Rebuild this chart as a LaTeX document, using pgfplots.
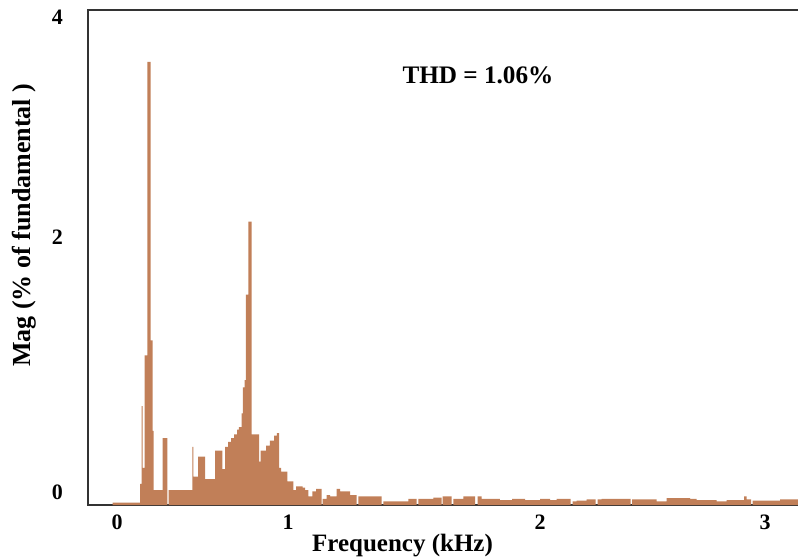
\documentclass[border=0pt]{standalone}
\usepackage{pgfplots}
\pgfplotsset{compat=1.18}
\usepackage{fontspec}
\setmainfont{Liberation Serif}
\definecolor{barc}{RGB}{193,127,88}
\begin{document}
\begin{tikzpicture}
\begin{axis}[
  at={(0,0)}, anchor=south west,
  scale only axis, width=357pt, height=247.5pt,
  xmin=-0.13426, xmax=3.1713, ymin=0, ymax=4,
  axis line style={black!80, line width=0.9pt},
  major tick length=0pt,
  xtick={0,0.7917,1.9583,3}, xticklabels={0,1,2,3},
  ytick={0.105,2.166,3.94}, yticklabels={0,2,4},
  /pgf/number format/assume math mode=true,
  ticklabel style={font=\bfseries\fontsize{11}{13}\selectfont},
  xticklabel style={yshift=-1.5pt},
  yticklabel style={xshift=-9pt},
  xlabel={Frequency (kHz)},
  ylabel={Mag (\% of fundamental )},
  label style={font=\bfseries\fontsize{12.5}{15}\selectfont},
  xlabel style={at={(axis description cs:0.4405,-0.081)}, anchor=center},
  ylabel style={at={(axis description cs:-0.0896,0.565)}, anchor=center, font=\bfseries\fontsize{13}{15}\selectfont},
  clip=true,
]
\addplot[const plot, fill=barc, draw=none] table[row sep=\\] {
x y\\
-0.0199 0.02\\
0.1065 0.17\\
0.1144 0.80\\
0.1190 0.30\\
0.1282 1.21\\
0.1403 3.58\\
0.1560 1.33\\
0.1653 0.60\\
0.1699 0.12\\
0.2116 0.54\\
0.2329 0\\
0.2394 0.12\\
0.3486 0.47\\
0.3532 0.23\\
0.3750 0.39\\
0.4074 0.21\\
0.4537 0.44\\
0.4875 0.29\\
0.5000 0.47\\
0.5139 0.51\\
0.5278 0.54\\
0.5417 0.57\\
0.5556 0.61\\
0.5648 0.63\\
0.5764 0.74\\
0.5833 0.95\\
0.5912 1.01\\
0.5972 1.70\\
0.6079 2.29\\
0.6236 0.57\\
0.6574 0.35\\
0.6653 0.44\\
0.6898 0.48\\
0.7083 0.52\\
0.7269 0.56\\
0.7407 0.58\\
0.7500 0.30\\
0.7593 0.27\\
0.7884 0.19\\
0.8162 0.12\\
0.8287 0.15\\
0.8597 0.14\\
0.8704 0.12\\
0.8856 0.07\\
0.9042 0.11\\
0.9213 0.13\\
0.9477 0\\
0.9523 0.05\\
0.9708 0.08\\
0.9861 0.07\\
1.0171 0.13\\
1.0324 0.11\\
1.0787 0.08\\
1.1097 0\\
1.1171 0.07\\
1.2255 0\\
1.2329 0.03\\
1.3486 0.05\\
1.3875 0\\
1.3949 0.05\\
1.4644 0.06\\
1.5032 0\\
1.5079 0.07\\
1.5495 0\\
1.5569 0.05\\
1.6032 0.07\\
1.6574 0\\
1.6699 0.07\\
1.6884 0.05\\
1.7731 0.04\\
1.8287 0.05\\
1.8889 0.04\\
1.9583 0.05\\
2.0046 0.04\\
2.0356 0.05\\
2.1005 0\\
2.1097 0.03\\
2.1282 0.035\\
2.1745 0.045\\
2.2153 0\\
2.2255 0.045\\
2.2440 0.05\\
2.3773 0\\
2.3843 0.045\\
2.4986 0.03\\
2.5449 0.055\\
2.6528 0.05\\
2.6838 0.04\\
2.7764 0.03\\
2.8227 0.04\\
2.9028 0.07\\
2.9153 0.045\\
2.9352 0\\
2.9431 0.035\\
3.0694 0.045\\
3.1713 0.045\\
} \closedcycle;
\node[font=\bfseries\fontsize{12.6}{14}\selectfont] at (axis cs:1.671,3.475) {THD = 1.06\%};
\end{axis}
\pgfresetboundingbox
\useasboundingbox (-44pt,-27pt) rectangle (355pt,252.5pt);
\end{tikzpicture}
\end{document}
